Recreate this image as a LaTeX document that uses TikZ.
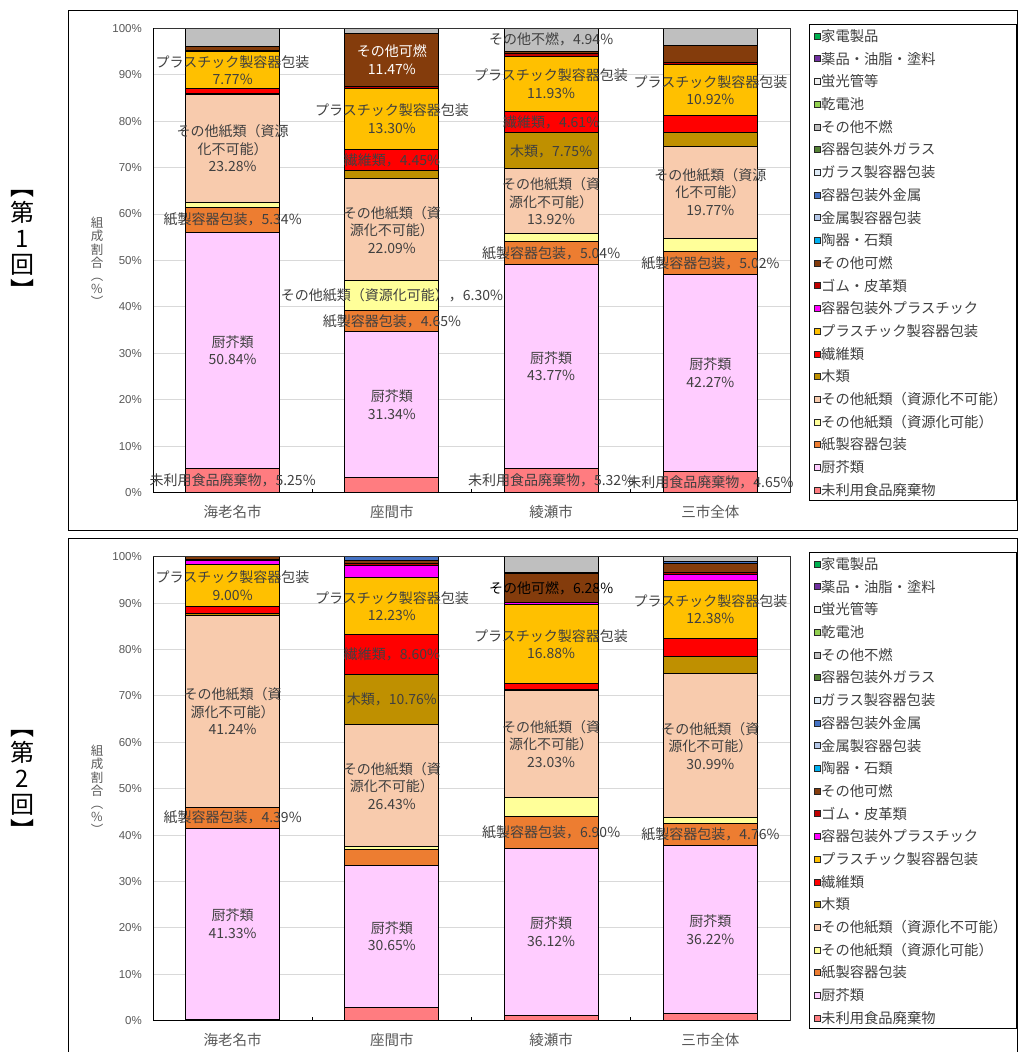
\documentclass[tikz,border=0pt]{standalone}
\usepackage{fontspec}
\setmainfont{Noto Sans CJK JP}
\newfontfamily\latf{Liberation Sans}
\definecolor{cKaden}{HTML}{00B050}
\definecolor{cYaku}{HTML}{7030A0}
\definecolor{cKeiko}{HTML}{F2F2F2}
\definecolor{cDenchi}{HTML}{92D050}
\definecolor{cFunen}{HTML}{BFBFBF}
\definecolor{cGaiGla}{HTML}{548235}
\definecolor{cGla}{HTML}{DEEBF7}
\definecolor{cGaiKin}{HTML}{4472C4}
\definecolor{cKin}{HTML}{B4C7E7}
\definecolor{cTouki}{HTML}{00B0F0}
\definecolor{cKanen}{HTML}{843C0C}
\definecolor{cGomu}{HTML}{C00000}
\definecolor{cGaiPla}{HTML}{FF00FF}
\definecolor{cPla}{HTML}{FFC000}
\definecolor{cSen}{HTML}{FF0000}
\definecolor{cMoku}{HTML}{BF9000}
\definecolor{cFuka}{HTML}{F8CBAD}
\definecolor{cKanou}{HTML}{FFFF99}
\definecolor{cKami}{HTML}{ED7D31}
\definecolor{cChu}{HTML}{FFCCFF}
\definecolor{cMiri}{HTML}{FF7C80}
\definecolor{txtg}{HTML}{404040}
\definecolor{axg}{HTML}{595959}
\definecolor{gridg}{HTML}{D9D9D9}
\newcommand\stackbar[2]{%
  \gdef\cumv{0}%
  \foreach \vv/\cc in {#2} {%
    \pgfmathsetmacro\hiv{\cumv+\vv}%
    \draw[seg, fill=\cc] (#1-47,\cumv) rectangle (#1+47,\hiv);%
    \xdef\cumv{\hiv}%
  }%
  \draw[seg] (#1-47,0) rectangle (#1+47,100);%
}
\newcommand\axesframe[1]{%
  \foreach \g in {10,20,...,90} \draw[gridl] (153,\g) -- (790,\g);
  \foreach \g in {0,10,...,100} \node[ytick] (#1y\g) at (142,\g) {\g\%};
}
\newcommand\axeslines[1]{%
  \draw[pborder] (153,100) -- (790,100) -- (790,0);
  \draw[axisl] (153,0) -- (153,100);
  \draw[axisb] (153,0) -- (790,0);
  \foreach \k in {1,2,3} \draw[axisl] (153+159.25*\k,0) -- (153+159.25*\k,0.9);
  \node[cat] (#1c1) at (232.6,-4.2) {海老名市};
  \node[cat] (#1c2) at (391.9,-4.2) {座間市};
  \node[cat] (#1c3) at (551.1,-4.2) {綾瀬市};
  \node[cat] (#1c4) at (710.4,-4.2) {三市全体};
}
\newcommand\legendbox[2]{%
  \draw[legframe] (809,#2-12) rectangle (1016,#2+464);
  \foreach \cc/\lt [count=\i from 0] in {cKaden/家電製品,cYaku/薬品・油脂・塗料,cKeiko/蛍光管等,cDenchi/乾電池,cFunen/その他不燃,cGaiGla/容器包装外ガラス,cGla/ガラス製容器包装,cGaiKin/容器包装外金属,cKin/金属製容器包装,cTouki/陶器・石類,cKanen/その他可燃,cGomu/ゴム・皮革類,cGaiPla/容器包装外プラスチック,cPla/プラスチック製容器包装,cSen/繊維類,cMoku/木類,cFuka/その他紙類（資源化不可能）,cKanou/その他紙類（資源化可能）,cKami/紙製容器包装,cChu/厨芥類,cMiri/未利用食品廃棄物} {%
    \draw[swatch, fill=\cc] (814,#2+22.7*\i-3) rectangle (820,#2+22.7*\i+3);
    \node[legtext] (#1l\i) at (821,#2+22.7*\i) {\lt};
  }%
}
\begin{document}
\begin{tikzpicture}[x=1pt,y=-1pt,
  seg/.style={draw=black,line width=0.9pt},
  gridl/.style={draw=gridg,line width=0.9pt},
  pborder/.style={draw=black!80,line width=0.9pt},
  axisl/.style={draw=black,line width=0.9pt},
  axisb/.style={draw=black,line width=1.4pt},
  frame/.style={draw=black,line width=1pt},
  legframe/.style={draw=black,line width=0.9pt},
  swatch/.style={draw=black!85,line width=0.6pt},
  ytick/.style={anchor=east,inner sep=0pt,text=axg,font=\latf\fontsize{11.5}{12}\selectfont},
  cat/.style={text=axg,inner sep=0pt,font=\fontsize{14.5}{16}\selectfont},
  legtext/.style={anchor=west,inner sep=0pt,text=txtg,font=\fontsize{14.3}{16}\selectfont},
  lbl/.style={align=center,inner sep=0pt,text=txtg,font=\fontsize{14}{17.5}\selectfont},
  side/.style={align=center,inner sep=0pt,text=black,font=\fontsize{24}{26}\selectfont},
  ytitle/.style={align=center,inner sep=0pt,text=axg,font=\fontsize{12.5}{13.2}\selectfont}]
\useasboundingbox (0,0) rectangle (1018,1052);
\clip (0,0) rectangle (1018,1052);
\fill[white] (0,0) rectangle (1018,1052);
% outer frames
\draw[frame] (68.3,10.3) rectangle (1017.3,530.3);
\draw[frame] (68.3,538.3) rectangle (1017.3,1075);
% side titles
\node[side] (s1) at (22,245) {︻\\第\\1\\回\\︼};
\node[side] (s2) at (22,785) {︻\\第\\2\\回\\︼};
\node[ytitle] (yt1) at (97,262) {組\\成\\割\\合\\︵\\\%\\︶};
\node[ytitle] (yt2) at (97,790) {組\\成\\割\\合\\︵\\\%\\︶};
% ===== chart 1 =====
\begin{scope}[shift={(0,492.7)},y=4.645pt]
\axesframe{a}
\stackbar{232.6}{5.25/cMiri,50.84/cChu,5.34/cKami,1.02/cKanou,23.28/cFuka,0.3/cMoku,1.1/cSen,7.77/cPla,0.3/cGomu,0.9/cKanen,3.9/cFunen}
\stackbar{391.9}{3.3/cMiri,31.34/cChu,4.65/cKami,6.30/cKanou,22.09/cFuka,1.7/cMoku,4.45/cSen,13.30/cPla,0.3/cGomu,11.47/cKanen,1.1/cFunen}
\stackbar{551.1}{5.32/cMiri,43.77/cChu,5.04/cKami,1.65/cKanou,13.92/cFuka,7.75/cMoku,4.61/cSen,11.93/cPla,0.55/cGomu,0.52/cKanen,4.94/cFunen}
\stackbar{710.4}{4.65/cMiri,42.27/cChu,5.02/cKami,2.9/cKanou,19.77/cFuka,3.0/cMoku,3.6/cSen,10.92/cPla,0.5/cGomu,3.7/cKanen,3.67/cFunen}
\axeslines{a}
% labels bar 1
\node[lbl] (a11) at (232.6,2.63) {未利用食品廃棄物，5.25\%};
\node[lbl] (a12) at (232.6,30.67) {厨芥類\\50.84\%};
\node[lbl] (a13) at (232.6,58.76) {紙製容器包装，5.34\%};
\node[lbl] (a14) at (232.6,74.09) {その他紙類（資源\\化不可能）\\23.28\%};
\node[lbl] (a15) at (232.6,91.0) {プラスチック製容器包装\\7.77\%};
% labels bar 2
\node[lbl] (a21) at (391.9,18.97) {厨芥類\\31.34\%};
\node[lbl] (a22) at (391.9,36.97) {紙製容器包装，4.65\%};
\node[lbl] (a23) at (391.9,42.44) {その他紙類（資源化可能），6.30\%};
\node[lbl] (a24) at (391.9,56.64) {その他紙類（資\\源化不可能）\\22.09\%};
\node[lbl] (a25) at (391.9,71.6) {繊維類，4.45\%};
\node[lbl] (a26) at (391.9,80.48) {プラスチック製容器包装\\13.30\%};
\node[lbl,text=white] (a27) at (391.9,93.17) {その他可燃\\11.47\%};
% labels bar 3
\node[lbl] (a31) at (551.1,2.66) {未利用食品廃棄物，5.32\%};
\node[lbl] (a32) at (551.1,27.2) {厨芥類\\43.77\%};
\node[lbl] (a33) at (551.1,51.61) {紙製容器包装，5.04\%};
\node[lbl] (a34) at (551.1,62.74) {その他紙類（資\\源化不可能）\\13.92\%};
\node[lbl] (a35) at (551.1,73.58) {木類，7.75\%};
\node[lbl] (a36) at (551.1,79.76) {繊維類，4.61\%};
\node[lbl] (a37) at (551.1,88.03) {プラスチック製容器包装\\11.93\%};
\node[lbl] (a38) at (551.1,97.53) {その他不燃，4.94\%};
% labels bar 4
\node[lbl] (a41) at (710.4,2.33) {未利用食品廃棄物，4.65\%};
\node[lbl] (a42) at (710.4,25.79) {厨芥類\\42.27\%};
\node[lbl] (a43) at (710.4,49.43) {紙製容器包装，5.02\%};
\node[lbl] (a44) at (710.4,64.73) {その他紙類（資源\\化不可能）\\19.77\%};
\node[lbl] (a45) at (710.4,86.67) {プラスチック製容器包装\\10.92\%};
\end{scope}
% ===== chart 2 =====
\begin{scope}[shift={(0,1020.7)},y=4.64pt]
\axesframe{b}
\stackbar{232.6}{0.2/cMiri,41.33/cChu,4.39/cKami,0.1/cKanou,41.24/cFuka,0.5/cMoku,1.5/cSen,9.00/cPla,1.0/cGaiPla,0.1/cGomu,0.64/cKanen}
\stackbar{391.9}{2.9/cMiri,30.65/cChu,3.4/cKami,0.5/cKanou,26.43/cFuka,10.76/cMoku,8.60/cSen,12.23/cPla,2.7/cGaiPla,0.3/cGomu,0.7/cKanen,0.83/cGaiKin}
\stackbar{551.1}{1.1/cMiri,36.12/cChu,6.90/cKami,4.0/cKanou,23.03/cFuka,0.3/cMoku,1.3/cSen,16.88/cPla,0.5/cGaiPla,6.28/cKanen,0.2/cGomu,3.39/cFunen}
\stackbar{710.4}{1.5/cMiri,36.22/cChu,4.76/cKami,1.3/cKanou,30.99/cFuka,3.7/cMoku,4.0/cSen,12.38/cPla,1.4/cGaiPla,0.3/cGomu,2.1/cKanen,0.3/cGaiKin,1.05/cFunen}
\axeslines{b}
% labels bar 1
\node[lbl] (b11) at (232.6,20.87) {厨芥類\\41.33\%};
\node[lbl] (b12) at (232.6,43.73) {紙製容器包装，4.39\%};
\node[lbl] (b13) at (232.6,66.64) {その他紙類（資\\源化不可能）\\41.24\%};
\node[lbl] (b14) at (232.6,93.76) {プラスチック製容器包装\\9.00\%};
% labels bar 2
\node[lbl] (b21) at (391.9,18.23) {厨芥類\\30.65\%};
\node[lbl] (b22) at (391.9,50.67) {その他紙類（資\\源化不可能）\\26.43\%};
\node[lbl] (b23) at (391.9,69.26) {木類，10.76\%};
\node[lbl] (b24) at (391.9,78.94) {繊維類，8.60\%};
\node[lbl] (b25) at (391.9,89.36) {プラスチック製容器包装\\12.23\%};
% labels bar 3
\node[lbl] (b31) at (551.1,19.16) {厨芥類\\36.12\%};
\node[lbl] (b32) at (551.1,40.67) {紙製容器包装，6.90\%};
\node[lbl] (b33) at (551.1,59.64) {その他紙類（資\\源化不可能）\\23.03\%};
\node[lbl] (b34) at (551.1,81.19) {プラスチック製容器包装\\16.88\%};
\node[lbl,text=black] (b35) at (551.1,93.27) {その他可燃，6.28\%};
% labels bar 4
\node[lbl] (b41) at (710.4,19.61) {厨芥類\\36.22\%};
\node[lbl] (b42) at (710.4,40.1) {紙製容器包装，4.76\%};
\node[lbl] (b43) at (710.4,59.28) {その他紙類（資\\源化不可能）\\30.99\%};
\node[lbl] (b44) at (710.4,88.66) {プラスチック製容器包装\\12.38\%};
\end{scope}
% legends
\legendbox{a}{36}
\legendbox{b}{564}
\end{tikzpicture}
\end{document}
